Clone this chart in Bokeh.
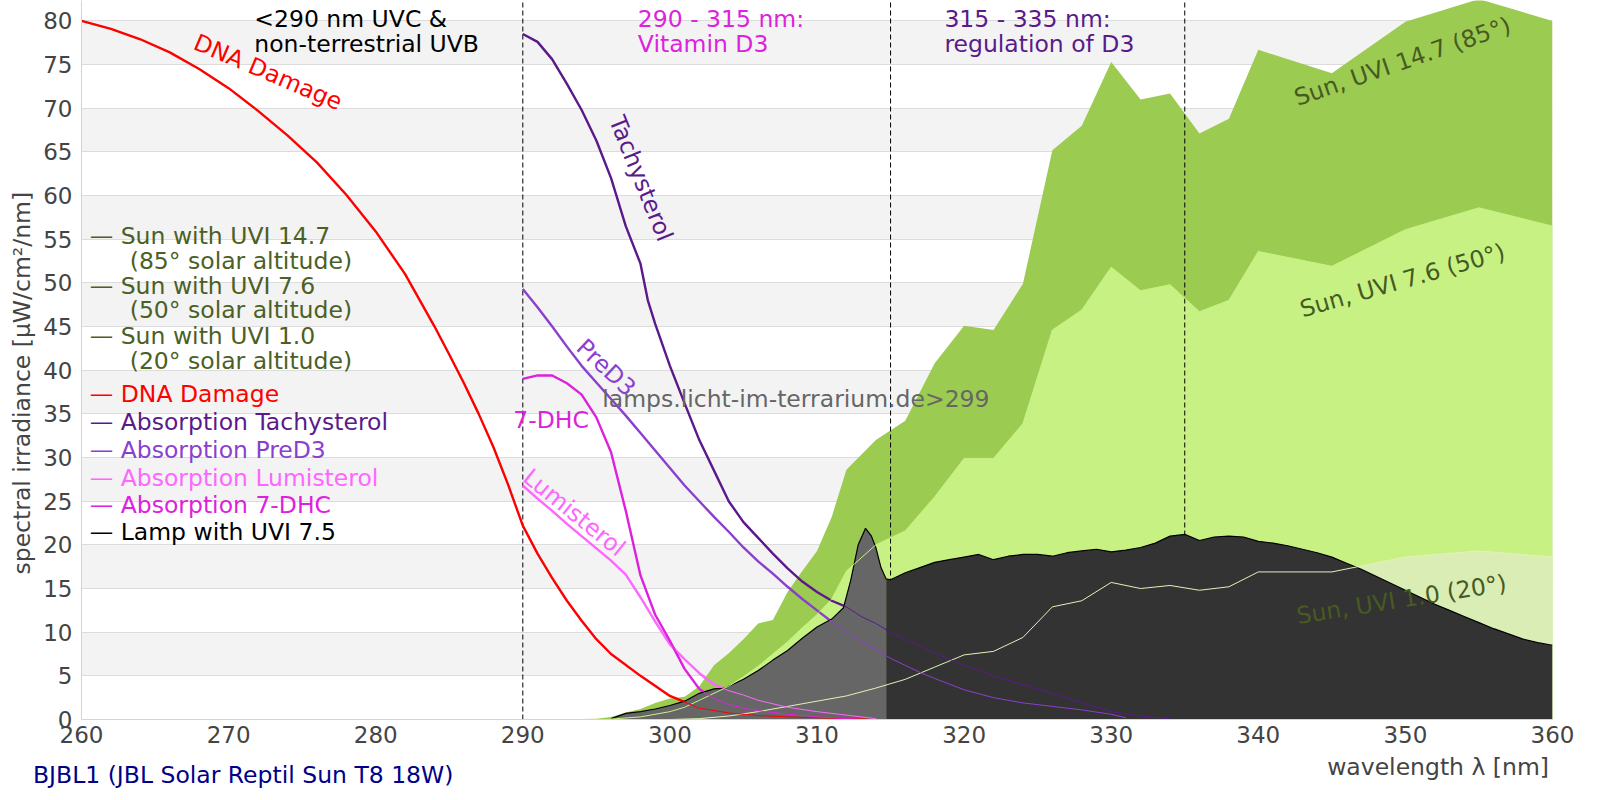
import numpy as np
from bokeh.plotting import figure
from bokeh.models import Range1d, FixedTicker, Div, Title
from bokeh.layouts import column
from bokeh.core.properties import value
from bokeh.embed import file_html
from bokeh.resources import INLINE

FONT = "DejaVu Sans"

# ---------------- data ----------------
X_TICKS = [260, 270, 280, 290, 300, 310, 320, 330, 340, 350, 360]
Y_TICKS = [0, 5, 10, 15, 20, 25, 30, 35, 40, 45, 50, 55, 60, 65, 70, 75, 80]
REGION_BOUNDS = [290, 315, 335]

dna_wl = [260, 262, 264, 266, 268, 270, 272, 274, 276, 278, 280, 282, 284, 285, 286, 287,
          288, 289, 290, 291, 292, 293, 294, 295, 296, 298, 300, 302, 304, 306, 308, 310,
          312, 313.5]
dna_val = [80.0, 79.1, 77.9, 76.4, 74.5, 72.3, 69.7, 66.9, 63.8, 60.1, 55.9, 51.0, 45.0,
           41.8, 38.5, 35.0, 31.2, 26.9, 22.2, 19.0, 16.2, 13.6, 11.3, 9.2, 7.5, 5.0, 2.7,
           1.3, 0.75, 0.45, 0.3, 0.2, 0.1, 0.05]

tachy_wl = [290, 291, 292, 293, 294, 295, 296, 297, 298, 298.5, 299, 300, 301, 302, 303, 304,
            305, 306, 307, 308, 309, 310, 311, 312, 313, 314, 315, 316, 318, 320, 322, 324,
            326, 328, 330, 332, 334]
tachy_val = [78.5, 77.6, 75.6, 72.8, 69.8, 66.3, 62.0, 56.5, 52.2, 48.0, 45.3, 40.5, 36.2, 32.0,
             28.5, 25.0, 22.6, 20.8, 19.0, 17.3, 15.8, 14.6, 13.6, 12.9, 11.8, 11.0, 10.0, 9.2,
             7.6, 6.2, 5.0, 4.0, 3.0, 1.9, 0.9, 0.4, 0.1]

pred_wl = [290, 291, 292, 293, 294, 295, 296, 297, 298, 299, 300, 301, 302, 303, 304, 305, 306,
           307, 308, 309, 310, 311, 312, 313, 314, 315, 316, 317, 318, 320, 322, 324, 326, 328,
           330, 331]
pred_val = [49.3, 47.2, 45.0, 42.7, 40.5, 38.6, 36.7, 34.8, 32.8, 30.8, 28.8, 26.8, 25.0, 23.2,
            21.5, 19.7, 18.1, 16.7, 15.2, 13.8, 12.5, 11.2, 10.0, 9.0, 8.0, 7.0, 6.2, 5.4, 4.7,
            3.4, 2.5, 1.9, 1.5, 1.1, 0.6, 0.2]

lumi_wl = [290, 291, 292, 293, 294, 295, 296, 297, 298, 299, 300, 301, 302, 303, 304, 305,
           306, 308, 310, 312, 314]
lumi_val = [26.8, 25.3, 23.9, 22.4, 21.0, 19.6, 18.2, 16.6, 14.0, 11.2, 8.6, 6.9, 5.3, 4.0,
            3.3, 2.8, 2.2, 1.4, 0.9, 0.5, 0.1]

dhc_wl = [290, 291, 292, 293, 294, 295, 296, 297, 298, 299, 300, 301, 302, 303, 304, 305,
          306, 308, 310, 312, 313]
dhc_val = [39.0, 39.4, 39.4, 38.5, 37.2, 34.6, 30.6, 23.9, 16.5, 12.0, 9.0, 5.8, 3.5, 2.4,
           1.7, 1.3, 1.0, 0.6, 0.3, 0.1, 0.0]

sun147_wl = [293, 294, 295, 296, 297, 298, 299, 300, 301, 302, 303, 304, 305, 306, 307, 308,
             309, 310, 311, 312, 314, 316, 318, 320, 322, 324, 326, 328, 330, 332, 334, 336,
             338, 340, 345, 350, 355, 360]
sun147_val = [0.0, 0.05, 0.1, 0.3, 0.8, 1.2, 1.9, 2.4, 2.6, 3.8, 6.2, 7.6, 9.2, 11.0, 11.4,
              14.6, 17.0, 19.3, 23.2, 28.6, 32.0, 34.2, 40.8, 45.1, 44.6, 49.9, 65.2, 68.0,
              75.3, 71.0, 71.7, 67.1, 68.8, 76.7, 74.0, 79.9, 82.5, 80.0]

sun76_wl = [296, 298, 300, 301, 302, 303, 304, 305, 306, 307, 308, 309, 310, 311, 312, 314,
            316, 318, 320, 322, 324, 326, 328, 330, 332, 334, 336, 338, 340, 345, 350, 355, 360]
sun76_val = [0.05, 0.3, 0.9, 1.4, 2.2, 3.0, 3.8, 4.9, 6.1, 7.5, 8.9, 10.5, 12.0, 13.8, 17.0,
             20.0, 21.6, 25.5, 29.9, 29.9, 33.9, 44.6, 46.9, 51.8, 49.1, 49.8, 46.7, 48.0,
             53.6, 51.9, 56.1, 58.6, 56.5]

sun10_wl = [300, 302, 304, 306, 308, 310, 312, 314, 316, 318, 320, 322, 324, 326, 328, 330,
            332, 334, 336, 338, 340, 345, 350, 355, 360]
sun10_val = [0.0, 0.1, 0.4, 0.9, 1.5, 2.1, 2.7, 3.6, 4.6, 6.0, 7.4, 7.8, 9.4, 12.9, 13.6,
             15.7, 15.0, 15.35, 14.8, 15.2, 16.9, 16.9, 18.6, 19.3, 18.6]

lamp_wl = [296, 297, 298, 299, 300, 301, 302, 303, 303.8, 304, 305, 306, 307, 308, 309, 310,
           311, 311.8, 312.3, 312.8, 313.3, 313.7, 314.0, 314.35, 314.7,
           315, 316, 317, 318, 319, 320, 321, 322, 323, 324, 325, 326, 327, 328, 329, 330,
           331, 332, 333, 334, 335, 336, 337, 338, 339, 340, 341, 342, 343, 344, 345, 346,
           347, 348, 349, 350, 351, 352, 353, 354, 355, 356, 357, 358, 359, 360]
lamp_val = [0.1, 0.7, 0.9, 1.2, 1.6, 2.1, 3.0, 3.5, 3.6, 3.8, 4.6, 5.6, 6.8, 7.9, 9.3, 10.6,
            11.5, 12.8, 16.0, 20.0, 21.9, 21.0, 19.7, 17.4, 16.1,
            16.0, 16.8, 17.4, 18.0, 18.3, 18.6, 18.9, 18.3, 18.7, 18.9, 18.9, 18.7, 19.1, 19.3,
            19.5, 19.2, 19.4, 19.7, 20.2, 21.0, 21.2, 20.5, 20.9, 21.0, 20.9, 20.4, 20.2, 19.9,
            19.5, 19.1, 18.6, 17.9, 17.2, 16.4, 15.6, 14.8, 14.0, 13.2, 12.5, 11.8, 11.1, 10.4,
            9.8, 9.2, 8.8, 8.5]
LAMP_SPLIT = 314.7

legend_rows = [
    ("— Sun with UVI 14.7", "#4b6024", 0),
    ("(85° solar altitude)", "#4b6024", 1),
    ("— Sun with UVI 7.6", "#4b6024", 0),
    ("(50° solar altitude)", "#4b6024", 1),
    ("— Sun with UVI 1.0", "#4b6024", 0),
    ("(20° solar altitude)", "#4b6024", 1),
    ("— DNA Damage", "#ff0000", 0),
    ("— Absorption Tachysterol", "#5b1a8b", 0),
    ("— Absorption PreD3", "#8b3fcf", 0),
    ("— Absorption Lumisterol", "#ff66ff", 0),
    ("— Absorption 7-DHC", "#dd22dd", 0),
    ("— Lamp with UVI 7.5", "#000000", 0),
]
legend_y = [55.42, 52.56, 49.70, 46.84, 43.97, 41.11, 37.30, 34.05, 30.89, 27.64, 24.51, 21.45]
legend_x = [260.56, 263.28]

TITLE = "BJBL1 (JBL Solar Reptil Sun T8 18W)"
X_LABEL = "wavelength λ [nm]"
Y_LABEL = "spectral irradiance [µW/cm²/nm]"

# ---------------- colours ----------------
C_S147 = "#9bcb50"
C_S76 = "#c7f283"
C_S10 = "#d9edb4"
C_DNA = "#ff0000"
C_TACHY = "#5b1a8b"
C_PRED = "#8b3fcf"
C_LUMI = "#ff66ff"
C_DHC = "#dd22dd"
C_SUNTXT = "#465a22"

W = 1596
Y_END = 82.34

p = figure(width=W, height=752, output_backend="svg", toolbar_location=None,
           x_range=Range1d(260, 360), y_range=Range1d(0, Y_END),
           min_border_left=80, min_border_right=44, min_border_top=0, min_border_bottom=33,
           title_location=None)
p.outline_line_color = None
p.background_fill_color = "white"

for ax, ticks in ((p.xaxis, X_TICKS), (p.yaxis, Y_TICKS)):
    ax.ticker = FixedTicker(ticks=ticks)
    ax.major_tick_line_color = None
    ax.minor_tick_line_color = None
    ax.major_tick_out = 0
    ax.major_tick_in = 0
    ax.minor_tick_out = 0
    ax.minor_tick_in = 0
    ax.axis_line_color = "#d4d4d4"
    ax.major_label_text_font = FONT
    ax.major_label_text_font_size = "23px"
    ax.major_label_text_color = "#444444"
p.yaxis.major_label_standoff = 9
p.xaxis.major_label_standoff = 6

# y-axis label as a side title, starting 145 px above the frame bottom like the reference
p.add_layout(Title(text=Y_LABEL, align="left", offset=145, text_font=FONT,
                   text_font_size="23.5px", text_font_style="normal",
                   text_color="#444444"), "left")

p.xgrid.visible = False
p.ygrid.grid_line_color = "#dcdcdc"
p.ygrid.band_fill_color = "#f3f3f3"
p.ygrid.band_fill_alpha = 1.0

# sun areas
p.varea(x=sun147_wl, y1=0, y2=sun147_val, fill_color=C_S147)
p.varea(x=sun76_wl, y1=0, y2=sun76_val, fill_color=C_S76)
p.varea(x=sun10_wl, y1=0, y2=sun10_val, fill_color=C_S10)

# region boundaries (dashed)
p.segment(x0=REGION_BOUNDS, y0=[0] * len(REGION_BOUNDS), x1=REGION_BOUNDS,
          y1=[Y_END] * len(REGION_BOUNDS), line_color="black", line_width=1, line_dash="5 3")

curves = [(dna_wl, dna_val, C_DNA), (lumi_wl, lumi_val, C_LUMI), (dhc_wl, dhc_val, C_DHC),
          (pred_wl, pred_val, C_PRED), (tachy_wl, tachy_val, C_TACHY)]
for wl, v, c in curves:
    p.line(wl, v, line_color=c, line_width=2.4)

# lamp
lw = np.array(lamp_wl)
lv = np.array(lamp_val)
m1 = lw <= LAMP_SPLIT
m2 = lw >= LAMP_SPLIT
p.varea(x=lw[m1], y1=0, y2=lv[m1], fill_color="#666666")
p.varea(x=lw[m2], y1=0, y2=lv[m2], fill_color="#333333")
p.line(lamp_wl, lamp_val, line_color="black", line_width=1.2)

# thin lines on top of the lamp
p.line(sun76_wl, sun76_val, line_color=C_S76, line_width=1)
p.line(sun10_wl, sun10_val, line_color="#e2f2b8", line_width=1)
for wl, v, c in curves:
    p.line(wl, v, line_color=c, line_width=1)

FS = value("23.5px")
TF = value(FONT)

# legend text
for (txt, col, indent), yy in zip(legend_rows, legend_y):
    p.text(x=[legend_x[indent]], y=[yy], text=[txt], text_color=col, text_font=TF,
           text_font_size=FS, text_align="left", text_baseline="middle")

# header annotations
header = [
    (271.75, ["<290 nm UVC &", "non-terrestrial UVB"], "#000000"),
    (297.82, ["290 - 315 nm:", "Vitamin D3"], C_DHC),
    (318.66, ["315 - 335 nm:", "regulation of D3"], C_TACHY),
]
header_y = [80.24, 77.38]
for hx, lines, col in header:
    p.text(x=[hx, hx], y=header_y, text=lines, text_color=col, text_font=TF,
           text_font_size=FS, text_align="left", text_baseline="middle")

# curve labels
curve_labels = [
    ("DNA Damage", 272.68, 74.13, -23, C_DNA, "center"),
    ("Tachysterol", 298.04, 61.95, -68, C_TACHY, "center"),
    ("PreD3", 295.67, 40.31, -43, C_PRED, "center"),
    ("7-DHC", 289.35, 34.35, 0, C_DHC, "left"),
    ("Lumisterol", 293.5, 23.7, -39, C_LUMI, "center"),
    ("lamps.licht-im-terrarium.de>299", 295.4, 36.72, 0, "#666666", "left"),
    ("Sun, UVI 14.7 (85°)", 349.8, 75.35, 19, C_SUNTXT, "center"),
    ("Sun, UVI 7.6 (50°)", 349.8, 50.27, 16, C_SUNTXT, "center"),
    ("Sun, UVI 1.0 (20°)", 349.74, 13.74, 9, C_SUNTXT, "center"),
]
for txt, x, y, ang, col, al in curve_labels:
    p.text(x=[x], y=[y], text=[txt], angle=[np.deg2rad(ang)], text_color=col, text_font=TF,
           text_font_size=FS, text_align=al, text_baseline="middle")

# footer: chart title (left) and x-axis label (right)
footer_html = (
    '<div style="position:relative;width:%dpx;height:44px;font-family:\'DejaVu Sans\';'
    'font-size:23.5px;line-height:24px;">'
    '<span style="position:absolute;left:33px;top:11px;color:#000088;white-space:nowrap;">%s</span>'
    '<span style="position:absolute;right:47px;top:3px;color:#444444;white-space:nowrap;">%s</span>'
    '</div>' % (W, TITLE, X_LABEL)
)
footer = Div(text=footer_html, width=W, height=44, margin=0)

layout = column(p, footer, spacing=0)
open("out.html", "w").write(file_html(layout, INLINE))
